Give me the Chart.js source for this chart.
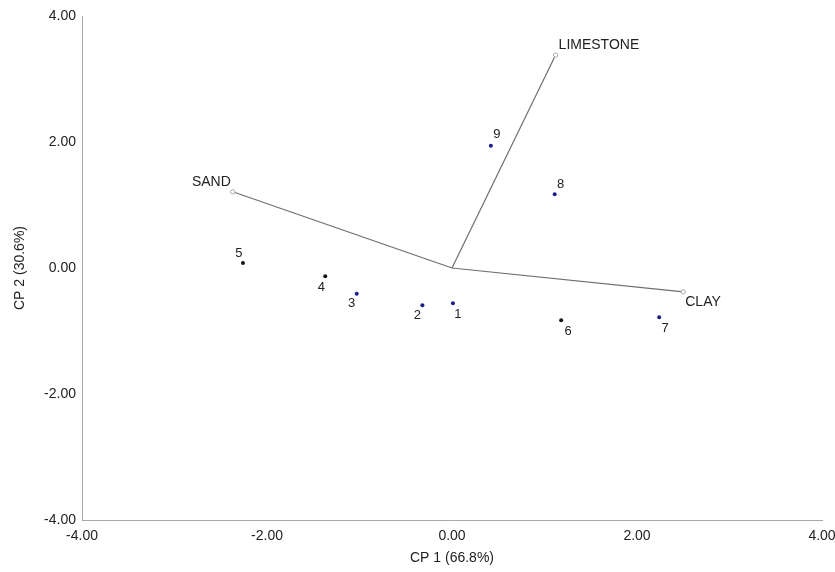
<!DOCTYPE html>
<html>
<head>
<meta charset="utf-8">
<script src="https://cdn.jsdelivr.net/npm/chart.js@4/dist/chart.umd.min.js"></script>
<style>
  html, body { margin: 0; padding: 0; background: #fff; }
  #wrap { width: 835px; height: 572px; }
</style>
</head>
<body>
<div id="wrap"><canvas id="biplot" width="835" height="572"></canvas></div>
<script>
// ==============================
// DATA
// ==============================
const obsLabels = ['1', '2', '3', '4', '5', '6', '7', '8', '9'];
const obsX = [0.01, -0.32, -1.03, -1.37, -2.26, 1.18, 2.24, 1.11, 0.42];
const obsY = [-0.56, -0.59, -0.41, -0.13, 0.08, -0.83, -0.78, 1.17, 1.94];

const varLabels = ['SAND', 'LIMESTONE', 'CLAY'];
const varX = [-2.37, 1.12, 2.50];
const varY = [1.21, 3.38, -0.38];

const axisTicks = [-4, -2, 0, 2, 4];
const xTitle = 'CP 1 (66.8%)';
const yTitle = 'CP 2 (30.6%)';

// ==============================
// STYLE
// ==============================
const FONT = 'Liberation Sans, Arial, sans-serif';
const dotColors = ['#1c1c8a', '#1c1c8a', '#1c1c8a', '#111', '#111', '#111', '#1c1c8a', '#1c1c8a', '#1c1c8a'];
// label offsets in px from the mark (dx, dy) + alignment
const obsLabelPos = [[5, 11], [-5, 10], [-5, 10], [-4, 11], [-4, -10], [7, 11], [6, 11], [6, -10], [6, -11]];
const varLabelPos = [[-2, -10, 'right'], [3, -10, 'left'], [2, 10, 'left']];

const labelPlugin = {
    id: 'labels',
    afterDatasetsDraw(chart) {
        const { ctx, scales: { x, y } } = chart;
        ctx.save();
        ctx.fillStyle = '#222';
        ctx.textBaseline = 'middle';
        ctx.font = '13px ' + FONT;
        ctx.textAlign = 'center';
        obsLabels.forEach((lab, i) => {
            const px = x.getPixelForValue(obsX[i]);
            const py = y.getPixelForValue(obsY[i]);
            ctx.fillText(lab, px + obsLabelPos[i][0], py + obsLabelPos[i][1]);
        });
        ctx.font = '14px ' + FONT;
        varLabels.forEach((lab, i) => {
            const px = x.getPixelForValue(varX[i]);
            const py = y.getPixelForValue(varY[i]);
            ctx.textAlign = varLabelPos[i][2];
            ctx.fillText(lab, px + varLabelPos[i][0], py + varLabelPos[i][1]);
        });
        ctx.restore();
    }
};

const loadingSets = varLabels.map((lab, i) => ({
    label: lab,
    data: [{ x: 0, y: 0 }, { x: varX[i], y: varY[i] }],
    showLine: true,
    borderColor: '#6e6e6e',
    borderWidth: 1.2,
    pointRadius: [0, 2.2],
    pointBackgroundColor: '#fff',
    pointBorderColor: '#aaa',
    pointBorderWidth: 1
}));

const fixBox = (w, h) => (scale) => {
    if (w !== null) scale.width = w;
    if (h !== null) scale.height = h;
    scale.paddingLeft = 0; scale.paddingRight = 0;
    scale.paddingTop = 0; scale.paddingBottom = 0;
};

const tickFmt = (v) => Number(v).toFixed(2);

new Chart(document.getElementById('biplot').getContext('2d'), {
    type: 'scatter',
    data: {
        datasets: [
            ...loadingSets,
            {
                label: 'obs',
                data: obsX.map((v, i) => ({ x: v, y: obsY[i] })),
                pointRadius: 2,
                pointBorderWidth: 0,
                pointBackgroundColor: dotColors
            }
        ]
    },
    options: {
        responsive: false,
        animation: false,
        layout: { padding: { left: 12, top: 16, right: 13, bottom: 0 } },
        plugins: {
            legend: { display: false },
            tooltip: { enabled: false }
        },
        scales: {
            x: {
                type: 'linear',
                min: -4, max: 4,
                afterBuildTicks: (s) => { s.ticks = axisTicks.map(v => ({ value: v })); },
                afterFit: fixBox(null, 52),
                grid: { display: false, drawTicks: false },
                border: { display: true, color: '#a8a8a8', width: 1 },
                ticks: { callback: tickFmt, padding: 8, color: '#222', maxRotation: 0, font: { family: FONT, size: 14 } },
                title: { display: true, text: xTitle, color: '#222', padding: { top: 0, bottom: 5 }, font: { family: FONT, size: 14 } }
            },
            y: {
                type: 'linear',
                min: -4, max: 4,
                afterBuildTicks: (s) => { s.ticks = axisTicks.map(v => ({ value: v })); },
                afterFit: fixBox(70, null),
                grid: { display: false, drawTicks: false },
                border: { display: true, color: '#a8a8a8', width: 1 },
                ticks: { callback: tickFmt, padding: 6, color: '#222', font: { family: FONT, size: 14 } },
                title: { display: true, text: yTitle, color: '#222', padding: { top: 0, bottom: 0 }, font: { family: FONT, size: 14 } }
            }
        }
    },
    plugins: [labelPlugin]
});
</script>
</body>
</html>
